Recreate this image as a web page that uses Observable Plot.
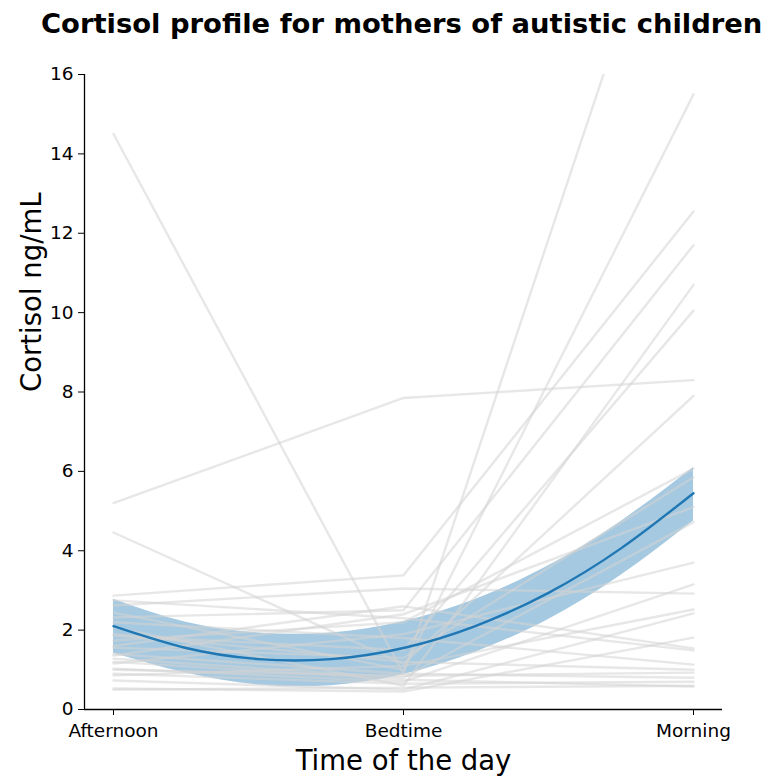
<!DOCTYPE html>
<html><head><meta charset="utf-8">
<script src="https://cdn.jsdelivr.net/npm/d3@7"></script>
<script src="https://cdn.jsdelivr.net/npm/@observablehq/plot@0.6"></script>
<style>
body{margin:0;background:#fff;font-family:"DejaVu Sans",sans-serif;}
#wrap{position:relative;width:773px;height:783px;}
#title{position:absolute;top:8px;left:41px;white-space:nowrap;font:bold 27.4px "DejaVu Sans",sans-serif;color:#000;line-height:32px;}
</style></head>
<body><div id="wrap"><div id="title">Cortisol profile for mothers of autistic children</div></div>
<script>
const times = ["Afternoon", "Bedtime", "Morning"];
// per-mother cortisol (ng/mL) at each time point
const afternoon = [14.5, 5.2, 4.46, 2.87, 2.62, 2.44, 2.32, 2.07, 1.86, 1.74, 1.56, 1.36, 1.28, 1.16, 1.03, 0.86, 0.73, 0.53, 2.75, 2.2, 1.9, 1.4, 1.2, 0.9, 0.5, 1.6, 1.0];
const bedtime   = [0.9, 7.85, 1.15, 3.38, 3.05, 1.0, 2.5, 0.6, 1.5, 2.2, 1.3, 2.4, 0.8, 1.9, 0.7, 1.1, 0.5, 0.45, 2.3, 1.8, 1.2, 0.9, 0.75, 0.65, 0.55, 2.6, 0.85];
const morning   = [22.8, 8.3, 7.9, 12.55, 2.92, 15.5, 11.7, 10.7, 10.05, 6.07, 5.85, 5.1, 4.72, 3.7, 3.15, 2.52, 2.42, 1.81, 1.49, 1.13, 1.0, 0.8, 0.58, 0.7, 0.6, 1.54, 0.93];
// fitted quadratic trend and its confidence band, read at positions along the x axis
const fitX  = [0, 0.25, 0.5, 0.75, 1, 1.25, 1.5, 1.75, 2];
const fitY  = [2.1, 1.55, 1.27, 1.27, 1.55, 2.11, 2.94, 4.06, 5.45];
const lowY  = [1.42, 0.92, 0.62, 0.6, 0.88, 1.45, 2.27, 3.38, 4.75];
const highY = [2.78, 2.2, 1.93, 1.93, 2.22, 2.78, 3.62, 4.74, 6.1];
const yTicks = [0, 2, 4, 6, 8, 10, 12, 14, 16];

const subjects = [];
afternoon.forEach((_, i) => {
  [afternoon[i], bedtime[i], morning[i]].forEach((v, t) => subjects.push({id: i, t, v}));
});
const fit = fitX.map((x, i) => ({x, y: fitY[i], lo: lowY[i], hi: highY[i]}));

const chart = Plot.plot({
  width: 773, height: 783,
  marginTop: 74, marginBottom: 74, marginLeft: 84, marginRight: 51,
  style: {fontSize: "18.5px", fontFamily: "DejaVu Sans, sans-serif", color: "#000", background: "#fff"},
  x: {type: "linear", domain: [-0.1, 2.1]},
  y: {domain: [0, 16]},
  marks: [
    Plot.areaY(fit, {x: "x", y1: "lo", y2: "hi", fill: "#a5c9e1", curve: "natural"}),
    Plot.line(subjects, {x: "t", y: "v", z: "id", stroke: "#d3d3d3", strokeOpacity: 0.55, strokeWidth: 2.4, clip: true}),
    Plot.line(fit, {x: "x", y: "y", stroke: "#1f77b4", strokeWidth: 2.4, curve: "natural"}),
    Plot.ruleX([-0.1], {stroke: "#000", strokeWidth: 1.3}),
    Plot.ruleY([0], {stroke: "#000", strokeWidth: 1.3}),
    Plot.axisY({ticks: yTicks, tickSize: 6, tickPadding: 5, label: null, tickFormat: d => d, fontSize: 18.5}),
    Plot.axisX({ticks: [0, 1, 2], tickSize: 6, tickPadding: 8, label: null, tickFormat: d => times[d], fontSize: 18.5}),
    Plot.text(["Cortisol ng/mL"], {frameAnchor: "left", dx: -52, rotate: -90, fontSize: 27.5}),
    Plot.text(["Time of the day"], {frameAnchor: "bottom", dy: 60, fontSize: 27.5})
  ]
});
document.getElementById("wrap").appendChild(chart);
</script>
</body></html>
